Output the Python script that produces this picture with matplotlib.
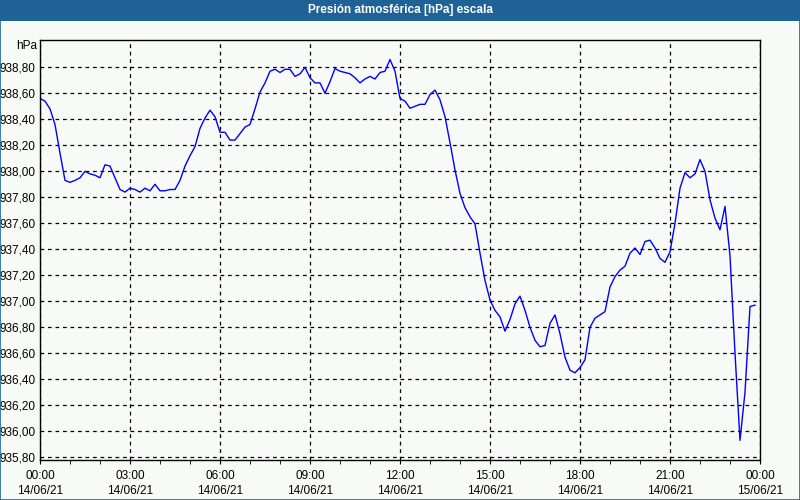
import numpy as np
import pandas as pd
import matplotlib
matplotlib.use("Agg")
import matplotlib.pyplot as plt
import matplotlib.dates as mdates
from matplotlib.patches import Rectangle

plt.rcParams['font.family'] = ['Liberation Sans', 'DejaVu Sans']

# presión cada 10 minutos, 14/06/21 00:00 -> 23:50
presion = [
    938.56, 938.54, 938.48, 938.36, 938.14, 937.93, 937.915, 937.93, 937.95, 938.00,
    937.98, 937.97, 937.95, 938.05, 938.04, 937.95, 937.86, 937.84, 937.87, 937.86,
    937.84, 937.87, 937.85, 937.90, 937.85, 937.85, 937.86, 937.86, 937.93, 938.04,
    938.12, 938.19, 938.33, 938.41, 938.47, 938.42, 938.30, 938.30, 938.24, 938.24,
    938.29, 938.34, 938.36, 938.48, 938.61, 938.68, 938.77, 938.785, 938.76, 938.785,
    938.785, 938.73, 938.75, 938.80, 938.72, 938.68, 938.68, 938.60, 938.69, 938.79,
    938.77, 938.76, 938.75, 938.72, 938.68, 938.71, 938.73, 938.71, 938.76, 938.77,
    938.86, 938.77, 938.56, 938.54, 938.485, 938.50, 938.515, 938.515, 938.59, 938.625,
    938.55, 938.42, 938.22, 938.01, 937.83, 937.72, 937.65, 937.595, 937.37, 937.16,
    937.01, 936.93, 936.88, 936.77, 936.86, 936.98, 937.04, 936.93, 936.80, 936.70,
    936.65, 936.66, 936.83, 936.895, 936.75, 936.57, 936.47, 936.45, 936.49, 936.55,
    936.80, 936.87, 936.895, 936.92, 937.11, 937.19, 937.24, 937.27, 937.37, 937.41,
    937.36, 937.46, 937.47, 937.41, 937.33, 937.30, 937.38, 937.60, 937.87, 937.99,
    937.95, 937.98, 938.09, 938.00, 937.78, 937.64, 937.55, 937.73, 937.35, 936.60,
    935.93, 936.30, 936.96, 936.97,
]
tiempos = pd.date_range("2021-06-14 00:00", periods=len(presion), freq="10min")

y_ticks = [935.8, 936.0, 936.2, 936.4, 936.6, 936.8, 937.0, 937.2, 937.4, 937.6,
           937.8, 938.0, 938.2, 938.4, 938.6, 938.8]
x_ticks = pd.date_range("2021-06-14 00:00", "2021-06-15 00:00", freq="3h")

fondo = '#f8faf8'
azul = '#1f6396'

fig = plt.figure(figsize=(8, 5), dpi=100, facecolor=fondo)
ax = fig.add_axes([0.05, 0.08, 0.90, 0.84])
ax.set_facecolor(fondo)

# barra del título
fig.patches.append(Rectangle((0, 1 - 21/500), 1, 21/500, transform=fig.transFigure,
                             facecolor=azul, edgecolor='none', zorder=0))
fig.patches.append(Rectangle((0.0006, 0.001), 0.9988, 0.998, transform=fig.transFigure,
                             facecolor='none', edgecolor=azul, linewidth=1.2, zorder=5))
fig.text(0.5, 1 - 10/500, "Presión atmosférica [hPa] escala", ha='center', va='center',
         color='white', fontsize=8.5, fontweight='bold')

ax.plot(tiempos, presion, color='#0000ff', linewidth=1)

ax.set_ylim(935.779, 939.01)
ax.set_xlim(x_ticks[0], x_ticks[-1])
ax.set_yticks(y_ticks)
ax.set_yticklabels([f"{v:.2f}".replace('.', ',') for v in y_ticks])
ax.set_xticks(x_ticks)
ax.set_xticklabels([t.strftime("%H:%M\n%d/%m/%y") for t in x_ticks], linespacing=1.35)
ax.xaxis.set_minor_locator(mdates.HourLocator())

ax.tick_params(axis='y', length=0, pad=3, labelsize=8.5)
ax.tick_params(axis='x', which='both', direction='out', length=3, pad=4, labelsize=8.5)
ax.grid(True, color='black', linestyle=(0, (3, 3)), linewidth=0.9)
for s in ax.spines.values():
    s.set_color('black')
    s.set_linewidth(1)

fig.text(0.047, 1 - 46/500, "hPa", ha='right', va='center', fontsize=8.5)

fig.savefig("out.png", dpi=100, facecolor=fondo)
